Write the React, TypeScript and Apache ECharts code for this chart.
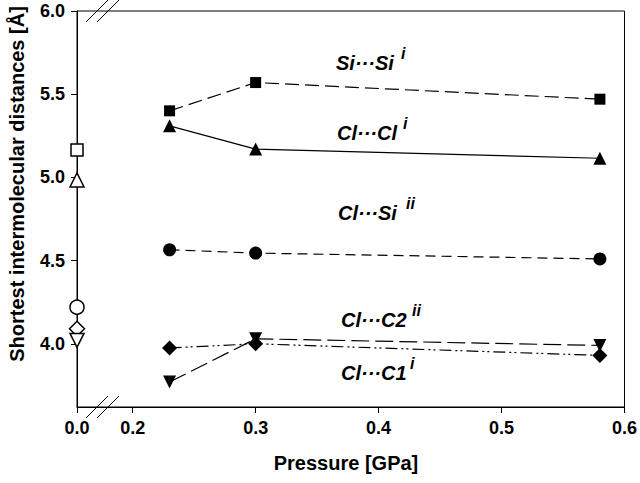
import React, { useEffect, useRef } from "react";
import * as echarts from "echarts";

// Pressure values (GPa); 0.0 = ambient data drawn left of the axis break
const pressures = [0.23, 0.3, 0.58];
const ambientPressure = 0.0;

// Shortest intermolecular distances (Å)
const siSi = [5.4, 5.57, 5.47];
const clCl = [5.31, 5.17, 5.115];
const clSi = [4.565, 4.545, 4.51];
const clC2 = [3.77, 4.03, 3.99];
const clC1 = [3.975, 4.0, 3.93];

// Ambient pressure (open symbols)
const ambSiSi = 5.165;
const ambClCl = 4.985;
const ambClSi = 4.22;
const ambClC1 = 4.09;
const ambClC2 = 4.02;

const xTicks = [0.2, 0.3, 0.4, 0.5, 0.6];
const yTicks = [4.0, 4.5, 5.0, 5.5, 6.0];

const X_MIN = 0.1547; // axis position standing for 0.0 GPa (broken axis)
const X_MAX = 0.6;
const Y_MIN = 3.62;
const Y_MAX = 6.0;

const toAxisX = (p: number) => (p === 0 ? X_MIN : p);

const FONT = "'Liberation Sans', Arial, sans-serif";

export default function App() {
  const ref = useRef<HTMLDivElement>(null);
  useEffect(() => {
    if (!ref.current) return;
    const chart = echarts.init(ref.current, null, { renderer: "svg" });

    const lineSeries = (
      name: string,
      vals: number[],
      symbol: string,
      size: number,
      dash: any,
      rotate = 0
    ) => ({
      name,
      type: "line",
      data: pressures.map((p, i) => [p, vals[i]]),
      symbol,
      symbolSize: size,
      symbolRotate: rotate,
      showSymbol: true,
      itemStyle: { color: "#000", borderColor: "#000", borderWidth: 0, opacity: 1 },
      lineStyle: { color: "#000", width: 1.2, type: dash },
      z: 3,
    });

    const openSeries = (name: string, val: number, symbol: string, size: number, rotate = 0) => ({
      name,
      type: "scatter",
      data: [[toAxisX(ambientPressure), val]],
      symbol,
      symbolSize: size,
      symbolRotate: rotate,
      itemStyle: { color: "#fff", borderColor: "#000", borderWidth: 1.5, opacity: 1 },
      z: 4,
      clip: false,
    });

    const labelMain = (text: string, x: number, y: number) => ({
      type: "text",
      x,
      y,
      style: {
        text,
        font: `italic bold 20px ${FONT}`,
        fill: "#000",
        textAlign: "left",
        textVerticalAlign: "middle",
      },
    });
    const labelSup = (text: string, x: number, y: number) => ({
      type: "text",
      x,
      y,
      style: {
        text,
        font: `italic bold 16px ${FONT}`,
        fill: "#000",
        textAlign: "left",
        textVerticalAlign: "middle",
      },
    });
    const brk = (x1: number, y1: number, x2: number, y2: number) => ({
      type: "line",
      shape: { x1, y1, x2, y2 },
      style: { stroke: "#000", lineWidth: 1 },
      z: 10,
    });

    chart.setOption({
      animation: false,
      backgroundColor: "#fff",
      grid: {
        left: 77,
        right: 13,
        top: 11,
        bottom: 76,
        show: true,
        borderColor: "#000",
        borderWidth: 1,
        backgroundColor: "transparent",
      },
      xAxis: {
        type: "value",
        min: X_MIN,
        max: X_MAX,
        axisLine: { show: true, onZero: false, lineStyle: { color: "#000", width: 1 } },
        axisTick: {
          show: true,
          length: 6,
          inside: false,
          customValues: [X_MIN, ...xTicks],
          lineStyle: { color: "#000" },
        },
        axisLabel: {
          customValues: [X_MIN, ...xTicks],
          formatter: (v: number) => (v < 0.19 ? ambientPressure.toFixed(1) : v.toFixed(1)),
          color: "#000",
          fontFamily: FONT,
          fontWeight: "bold",
          fontSize: 18,
          margin: 12,
        },
        splitLine: { show: false },
      },
      yAxis: {
        type: "value",
        min: Y_MIN,
        max: Y_MAX,
        axisLine: { show: true, lineStyle: { color: "#000", width: 1 } },
        axisTick: {
          show: true,
          length: 6,
          customValues: yTicks,
          lineStyle: { color: "#000" },
        },
        axisLabel: {
          customValues: yTicks,
          formatter: (v: number) => v.toFixed(1),
          color: "#000",
          fontFamily: FONT,
          fontWeight: "bold",
          fontSize: 18,
          margin: 12,
        },
        splitLine: { show: false },
      },
      series: [
        lineSeries("Si···Si i", siSi, "rect", 11, [14, 6]),
        lineSeries("Cl···Cl i", clCl, "triangle", 13, "solid"),
        lineSeries("Cl···Si ii", clSi, "circle", 13, [10, 6]),
        lineSeries("Cl···C2 ii", clC2, "triangle", 13, [18, 6], 180),
        lineSeries("Cl···C1 i", clC1, "diamond", 15, [12, 4, 2, 3, 2, 4]),
        openSeries("Si···Si i (0 GPa)", ambSiSi, "rect", 12),
        openSeries("Cl···Cl i (0 GPa)", ambClCl, "triangle", 14),
        openSeries("Cl···Si ii (0 GPa)", ambClSi, "circle", 14),
        openSeries("Cl···C1 i (0 GPa)", ambClC1, "diamond", 15),
        openSeries("Cl···C2 ii (0 GPa)", ambClC2, "triangle", 14, 180),
      ],
      graphic: [
        labelMain("Si···Si", 336, 63),
        labelSup("i", 401, 53),
        labelMain("Cl···Cl", 337, 133),
        labelSup("i", 403, 123),
        labelMain("Cl···Si", 338, 213),
        labelSup("ii", 406, 203),
        labelMain("Cl···C2", 341, 320),
        labelSup("ii", 412, 310),
        labelMain("Cl···C1", 341, 373),
        labelSup("i", 410, 363),
        brk(86, 22, 108, 0),
        brk(97, 22, 119, 0),
        brk(86, 418, 108, 396),
        brk(97, 418, 119, 396),
        {
          type: "text",
          x: 17,
          y: 184,
          rotation: Math.PI / 2,
          style: {
            text: "Shortest intermolecular distances [Å]",
            font: `bold 20px ${FONT}`,
            fill: "#000",
            textAlign: "center",
            textVerticalAlign: "middle",
          },
        },
        {
          type: "text",
          x: 346,
          y: 463,
          style: {
            text: "Pressure [GPa]",
            font: `bold 20px ${FONT}`,
            fill: "#000",
            textAlign: "center",
            textVerticalAlign: "middle",
          },
        },
      ],
    });
    return () => chart.dispose();
  }, []);
  return <div ref={ref} style={{ width: 640, height: 483, position: "absolute", left: 0, top: 0 }} />;
}
